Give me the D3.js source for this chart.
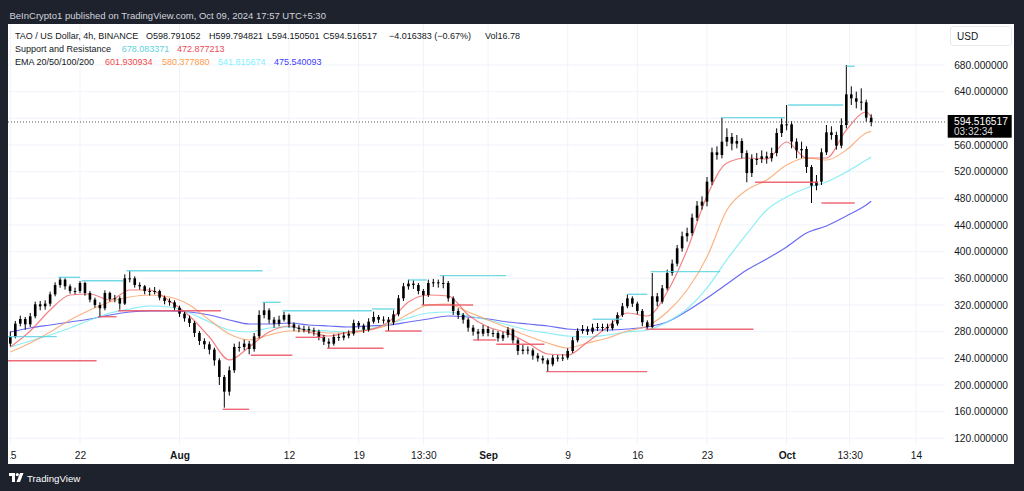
<!DOCTYPE html>
<html><head><meta charset="utf-8">
<script src="https://cdnjs.cloudflare.com/ajax/libs/d3/7.8.5/d3.min.js"></script>
<style>
html,body{margin:0;padding:0;background:#1e222d;}
svg{display:block;font-family:"Liberation Sans",Arial,sans-serif;}
</style></head><body>
<svg id="c" width="1024" height="491"></svg>
<script>
// ---------- DATA ----------
const candleStart = "2024-07-15T00:00"; // 12h candles
const firstOpen = 262;
const closes = [272,292,299,291,303,321,318,322,336,350,
358,348,341,341,353,338,328,320,315,338,
329,330,322,360,360,350,348,341,340,341,
331,326,324,316,307,300,293,278,266,261,
253,237,212,190,222,257,257,262,254,273,
305,312,298,292,298,305,291,286,284,284,
282,280,272,265,262,272,271,274,277,293,
289,283,295,302,298,298,294,306,330,348,
352,350,341,335,353,354,353,353,330,311,
305,298,286,280,277,284,278,278,270,275,
283,267,251,253,252,244,240,237,231,241,
240,241,251,267,281,284,280,286,287,287,
285,292,305,318,330,322,311,294,287,333,
325,345,368,382,405,423,428,451,469,475,
505,549,545,565,572,562,566,548,518,539,
539,543,540,548,578,591,591,565,552,554,
527,499,505,549,579,575,559,590,636,630,
625,624,601,594.52];
const highs = [280,296,304,302,308,325,326,327,340,354,
362,360,351,346,356,355,341,331,324,342,
340,335,333,366,371,363,354,350,346,347,
343,334,330,327,319,310,304,296,281,270,
265,256,240,215,228,262,265,268,266,278,
312,324,315,302,304,310,307,294,290,289,
288,286,283,275,270,276,277,279,282,298,
296,292,300,310,305,303,302,312,335,353,
358,357,353,344,358,359,358,364,356,333,
315,308,301,290,284,290,288,283,281,280,
287,285,270,260,258,255,248,244,240,245,
245,246,255,272,285,290,288,292,293,292,
292,297,309,323,336,333,325,314,297,368,
338,350,373,388,410,430,436,457,476,483,
512,556,558,601,585,578,575,570,552,546,
548,552,550,556,585,600,620,596,570,565,
558,530,515,555,590,588,580,600,680,648,
640,645,628,606];
const lows = [258,270,288,283,287,300,312,313,318,333,
346,343,337,336,338,334,324,316,302,312,
325,324,313,320,354,346,343,336,334,336,
327,321,319,311,302,295,287,272,260,254,
246,229,200,166,184,218,250,252,246,250,
270,300,292,286,288,295,286,281,279,279,
277,274,267,260,255,259,266,267,270,274,
284,278,280,292,293,292,281,290,303,326,
343,344,336,320,332,347,346,345,325,305,
299,292,280,274,267,273,273,272,265,266,
271,262,245,246,246,238,235,232,220,228,
235,236,238,248,264,277,275,277,281,281,
280,282,289,302,315,317,306,288,284,285,
318,322,342,364,378,400,415,424,446,463,
468,500,538,540,558,552,555,540,504,512,
530,533,532,535,543,572,582,555,540,540,
518,473,492,500,545,568,553,555,585,620,
615,612,595,588];

// EMA readings (every 2 days)
const emaDates = ["2024-07-15T00:00","2024-07-17T00:00","2024-07-19T00:00","2024-07-21T00:00","2024-07-23T00:00","2024-07-25T00:00","2024-07-27T00:00","2024-07-29T00:00","2024-07-31T00:00","2024-08-02T00:00",
"2024-08-04T00:00","2024-08-06T00:00","2024-08-08T00:00","2024-08-10T00:00","2024-08-12T00:00","2024-08-14T00:00","2024-08-16T00:00","2024-08-18T00:00","2024-08-20T00:00","2024-08-22T00:00",
"2024-08-24T00:00","2024-08-26T00:00","2024-08-28T00:00","2024-08-30T00:00","2024-09-01T00:00","2024-09-03T00:00","2024-09-05T00:00","2024-09-07T00:00","2024-09-09T00:00","2024-09-11T00:00",
"2024-09-13T00:00","2024-09-15T00:00","2024-09-17T00:00","2024-09-19T00:00","2024-09-21T00:00","2024-09-23T00:00","2024-09-25T00:00","2024-09-27T00:00","2024-09-29T00:00","2024-10-01T00:00",
"2024-10-03T00:00","2024-10-05T00:00","2024-10-07T00:00","2024-10-09T00:00","2024-10-09T12:00"];
const ema20 = [257,281,312.5,335,336.5,327.5,342.5,342.5,326,303.5,272,237.5,257,279.5,288.5,279.5,273.5,279.5,282.5,294.5,324.5,335,333.5,305,287,278,263,246.5,245,264.5,287,308,303.5,339.5,402.5,483.5,533,540.5,539,564.5,540.5,540.5,582.5,609.5,601.93];
const ema50 = [249.5,263,279.5,297.5,312.5,324.5,332,335,332,320,297.5,276.5,267.5,275,281,281,278,278,282.5,290,306.5,320,321.5,309.5,297.5,285.5,273.5,263,255.5,263,270.5,281,288.5,309.5,342.5,392,462.5,492.5,507.5,530,540.5,537.5,552.5,578,580.38];
const ema100 = [257,266,275,285.5,297.5,308,314,318.5,317,308,294.5,282.5,279.5,285.5,287,282.5,281,279.5,284,291.5,300.5,308,309.5,303.5,297.5,290,282.5,278,273.5,272,275,279.5,282.5,294.5,314,345.5,388,426.5,462.5,482,495.5,504.5,519.5,537.5,541.82];
const ema200 = [279.5,285.5,290,294.5,299,305,309.5,311,311,309.5,305,297.5,291.5,291.5,293,290,288.5,287,288.5,290,294.5,299,303.5,302,299,294.5,291.5,288.5,284,282.5,282.5,284,287,294.5,311,330.5,351.5,372.5,389,407,428,438.5,453.5,470,475.54];

// Support & resistance segments
const resStart = ["2024-07-14T16:00","2024-07-19T20:00","2024-07-22T04:00","2024-07-26T16:00","2024-08-09T08:00","2024-08-11T08:00","2024-08-20T08:00","2024-08-24T00:00","2024-08-27T04:00","2024-09-11T12:00","2024-09-15T00:00","2024-09-17T08:00","2024-09-24T12:00","2024-10-01T04:00","2024-10-07T00:00"];
const resEnd   = ["2024-07-19T16:00","2024-07-22T00:00","2024-07-26T08:00","2024-08-09T08:00","2024-08-11T04:00","2024-08-20T08:00","2024-08-22T16:00","2024-08-25T20:00","2024-09-02T20:00","2024-09-14T12:00","2024-09-17T00:00","2024-09-24T08:00","2024-09-30T20:00","2024-10-06T16:00","2024-10-07T20:00"];
const resLevel = [272.5,361.5,356.4,371.4,324,311.4,314,357.5,364,298.6,336,370,601,620,678.08];
const supStart = ["2024-07-14T16:00","2024-07-23T20:00","2024-07-25T20:00","2024-08-05T08:00","2024-08-08T04:00","2024-08-12T16:00","2024-08-15T20:00","2024-08-21T16:00","2024-08-25T08:00","2024-08-30T12:00","2024-09-01T20:00","2024-09-06T20:00","2024-09-16T20:00","2024-09-27T20:00","2024-10-04T12:00"];
const supEnd   = ["2024-07-23T16:00","2024-07-25T16:00","2024-08-05T04:00","2024-08-08T00:00","2024-08-12T08:00","2024-08-15T12:00","2024-08-21T12:00","2024-08-25T08:00","2024-08-30T12:00","2024-09-01T20:00","2024-09-06T16:00","2024-09-17T00:00","2024-09-27T16:00","2024-10-04T04:00","2024-10-07T20:00"];
const supLevel = [236.4,302.4,311.4,163.5,244.5,271.5,255,281,320,267.5,261,220,283.5,504,472.88];

const priceTicks = [120,160,200,240,280,320,360,400,440,480,520,560,600,640,680];
const hiddenTick = 600; // covered by the last-price label
const timeTicks = ["2024-07-15T00:00","2024-07-22T00:00","2024-08-01T00:00","2024-08-12T00:00","2024-08-19T00:00","2024-08-25T12:00","2024-09-01T00:00","2024-09-09T00:00","2024-09-16T00:00","2024-09-23T00:00","2024-10-01T00:00","2024-10-07T08:00","2024-10-14T00:00"];
const timeLabels = ["15","22","Aug","12","19","13:30","Sep","9","16","23","Oct","13:30","14"];
const boldLabels = ["Aug","Sep","Oct"];

const lastPrice = 594.516517;
const lastPriceText = "594.516517";
const countdown = "03:32:34";

// ---------- DRAW ----------
const svg = d3.select("#c");
const W = 1024, H = 491;
const parse = d3.utcParse("%Y-%m-%dT%H:%M");
const plotL = 8, plotR = 945, plotT = 24, plotB = 445;

svg.append("rect").attr("width", W).attr("height", H).attr("fill", "#1e222d");
svg.append("rect").attr("x", 8).attr("y", 24).attr("width", 1006).attr("height", 440).attr("fill", "#ffffff");

const x = d3.scaleUtc().domain([parse("2024-07-22T00:00"), parse("2024-10-14T00:00")]).range([80, 916]);
const y = d3.scaleLinear().domain([120, 680]).range([438.3, 65]);

const defs = svg.append("defs");
defs.append("clipPath").attr("id", "plotclip").append("rect")
  .attr("x", plotL).attr("y", plotT).attr("width", plotR - plotL).attr("height", plotB - plotT);
defs.append("clipPath").attr("id", "axclip").append("rect")
  .attr("x", 10).attr("y", 440).attr("width", 935).attr("height", 24);

// grid
const grid = svg.append("g");
grid.selectAll("line.h").data(priceTicks).join("line")
  .attr("x1", plotL).attr("x2", plotR).attr("y1", d => y(d)).attr("y2", d => y(d))
  .attr("stroke", "#f0f3fa").attr("stroke-width", 1);
grid.selectAll("line.v").data(timeTicks).join("line")
  .attr("x1", d => x(parse(d))).attr("x2", d => x(parse(d))).attr("y1", plotT).attr("y2", plotB)
  .attr("stroke", "#f0f3fa").attr("stroke-width", 1);

const plot = svg.append("g").attr("clip-path", "url(#plotclip)");

// EMAs
const emaPts = emaDates.map(parse);
const line = d3.line().x((d, i) => x(emaPts[i])).y(d => y(d)).curve(d3.curveMonotoneX);
const emaSpecs = [
  [ema200, "rgba(80,80,240,0.85)"],
  [ema100, "rgba(120,235,245,0.85)"],
  [ema50, "rgba(250,160,100,0.8)"],
  [ema20, "rgba(240,90,90,0.75)"]
];
emaSpecs.forEach(([vals, col]) => {
  plot.append("path").datum(vals).attr("d", line).attr("fill", "none")
    .attr("stroke", col).attr("stroke-width", 1.2);
});

// candles
const start = parse(candleStart);
const candles = closes.map((c, i) => ({
  t: d3.utcHour.offset(start, 12 * i),
  o: i === 0 ? firstOpen : closes[i - 1],
  h: highs[i], l: lows[i], c: c
}));
const cg = plot.append("g");
cg.selectAll("line.w").data(candles).join("line")
  .attr("x1", d => x(d.t)).attr("x2", d => x(d.t))
  .attr("y1", d => y(d.h)).attr("y2", d => y(d.l))
  .attr("stroke", "#000").attr("stroke-width", 1);
const bw = 2.6;
cg.selectAll("rect").data(candles).join("rect")
  .attr("x", d => x(d.t) - bw / 2).attr("width", bw)
  .attr("y", d => y(Math.max(d.o, d.c)))
  .attr("height", d => Math.max(1, Math.abs(y(d.o) - y(d.c))))
  .attr("fill", "#000");

// S&R
const srg = plot.append("g");
srg.selectAll("line.r").data(resLevel).join("line")
  .attr("x1", (d, i) => x(parse(resStart[i]))).attr("x2", (d, i) => x(parse(resEnd[i])))
  .attr("y1", d => y(d)).attr("y2", d => y(d))
  .attr("stroke", "rgba(90,210,225,0.85)").attr("stroke-width", 1.4);
srg.selectAll("line.s").data(supLevel).join("line")
  .attr("x1", (d, i) => x(parse(supStart[i]))).attr("x2", (d, i) => x(parse(supEnd[i])))
  .attr("y1", d => y(d)).attr("y2", d => y(d))
  .attr("stroke", "rgba(235,80,95,0.85)").attr("stroke-width", 1.4);

// last price dotted line
svg.append("line").attr("x1", plotL).attr("x2", 947).attr("y1", y(lastPrice)).attr("y2", y(lastPrice))
  .attr("stroke", "#555").attr("stroke-width", 1).attr("stroke-dasharray", "1,2");

// price axis
const yAxis = d3.axisRight(y).tickValues(priceTicks.filter(v => v !== hiddenTick))
  .tickFormat(d => d.toFixed(6)).tickSize(0);
const ya = svg.append("g").attr("transform", "translate(1008,0)").call(yAxis);
ya.select(".domain").remove();
ya.selectAll("text").attr("x", 0).attr("text-anchor", "end").attr("fill", "#131722")
  .style("font-size", "10.2px").style("font-family", '"Liberation Sans",Arial,sans-serif');

// USD box
svg.append("rect").attr("x", 950.5).attr("y", 26.5).attr("width", 61).attr("height", 19).attr("rx", 3)
  .attr("fill", "#fff").attr("stroke", "#e6e8ee");
svg.append("text").attr("x", 957).attr("y", 39.5).text("USD").attr("fill", "#131722")
  .style("font-size", "10px");

// last price label
svg.append("rect").attr("x", 947.7).attr("y", 115).attr("width", 64).attr("height", 22.7).attr("fill", "#000");
svg.append("text").attr("x", 954).attr("y", 124.7).text(lastPriceText).attr("fill", "#fff").style("font-size", "10.2px");
svg.append("text").attr("x", 954).attr("y", 135).text(countdown).attr("fill", "#ddd").style("font-size", "10px");

// time axis
const xAxis = d3.axisBottom(x).tickValues(timeTicks.map(parse)).tickFormat((d, i) => timeLabels[i]).tickSize(0);
const xa = svg.append("g").attr("clip-path", "url(#axclip)").append("g").attr("transform", "translate(0,448.5)").call(xAxis);
xa.select(".domain").remove();
xa.selectAll("text").attr("fill", "#131722").attr("dy", "0.71em")
  .style("font-size", "10.2px").style("font-family", '"Liberation Sans",Arial,sans-serif')
  .style("font-weight", (d, i) => boldLabels.includes(timeLabels[i]) ? "bold" : "normal");

// header
svg.append("text").attr("x", 9.5).attr("y", 18.5).attr("fill", "#d1d4dc").style("font-size", "9.5px")
  .text("BeInCrypto1 published on TradingView.com, Oct 09, 2024 17:57 UTC+5:30");

// legend
const lg = svg.append("g").style("font-size", "9px");
const legendItems = [
  [15, 38.5, "TAO / US Dollar, 4h, BINANCE", "#131722"],
  [146, 38.5, "O598.791052", "#131722"],
  [209, 38.5, "H599.794821", "#131722"],
  [267, 38.5, "L594.150501", "#131722"],
  [323, 38.5, "C594.516517", "#131722"],
  [389, 38.5, "\u22124.016383 (\u22120.67%)", "#131722"],
  [485, 38.5, "Vol16.78", "#131722"],
  [15, 51.5, "Support and Resistance", "#131722"],
  [121.7, 51.5, "678.083371", "#5dd3e0"],
  [177, 51.5, "472.877213", "#ec4a5a"],
  [15, 64.5, "EMA 20/50/100/200", "#131722"],
  [105, 64.5, "601.930934", "#f24a4a"],
  [162, 64.5, "580.377880", "#ff9a4a"],
  [218, 64.5, "541.815674", "#80f0ff"],
  [274, 64.5, "475.540093", "#3d3dff"]
];
lg.selectAll("text").data(legendItems).join("text")
  .attr("x", d => d[0]).attr("y", d => d[1]).attr("fill", d => d[3]).text(d => d[2]);

// TradingView footer
const lgF = svg.append("g").attr("transform", "translate(9,473)");
lgF.append("path").attr("d", "M0,0 H6 V9 H3 V3 H0 Z").attr("fill", "#fff");
lgF.append("circle").attr("cx", 8.3).attr("cy", 1.6).attr("r", 1.6).attr("fill", "#fff");
lgF.append("path").attr("d", "M11,0 H14.5 L11,9 H7.5 Z").attr("fill", "#fff");
svg.append("text").attr("x", 27).attr("y", 482).attr("fill", "#fff").style("font-size", "9.7px").text("TradingView");
</script>
</body></html>
